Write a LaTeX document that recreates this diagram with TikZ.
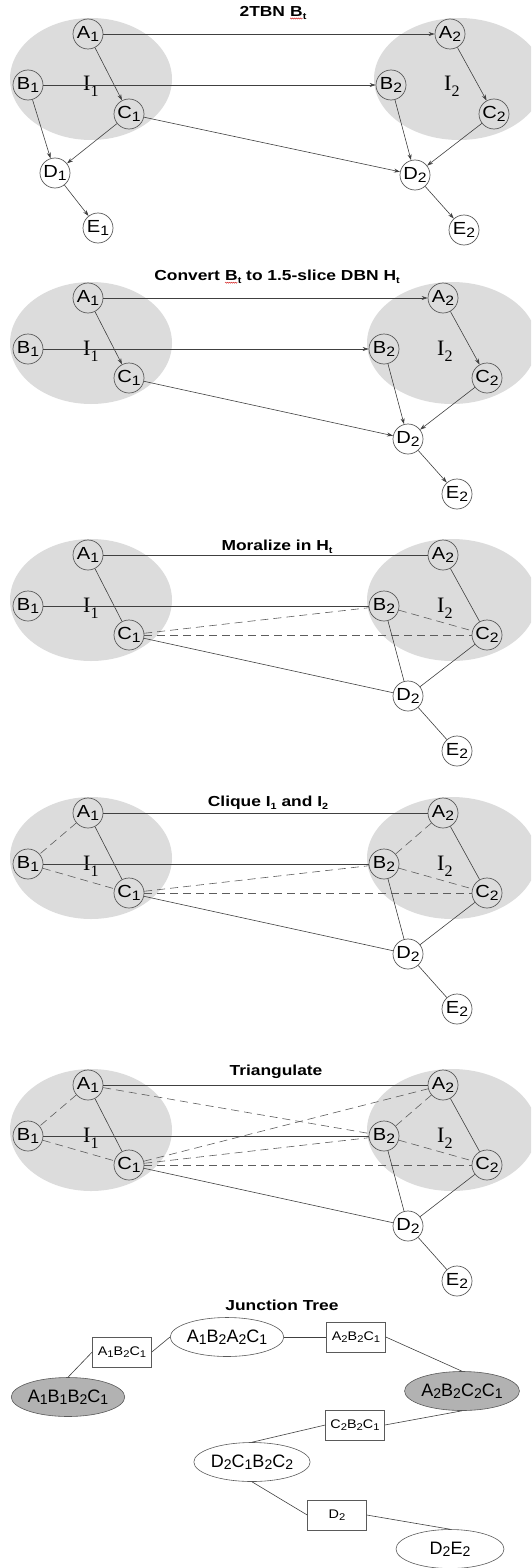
\documentclass[tikz,border=0pt]{standalone}
\usepackage{fontspec}
\setmainfont{Liberation Sans}
\newfontfamily\serifI{Liberation Serif}
\newfontfamily\wideSans[FakeStretch=1.15]{Liberation Sans}
\newfontfamily\titleSans[FakeStretch=1.2]{Liberation Sans}
\usetikzlibrary{arrows.meta,shapes.geometric,decorations.pathmorphing}

\definecolor{slicegray}{HTML}{DCDCDC}
\definecolor{cliquegray}{HTML}{B2B2B2}
\definecolor{edge}{HTML}{404040}
\definecolor{ring}{HTML}{5A5A5A}

% letter with a lowered, smaller index
\newcommand\vn[2]{#1\raisebox{-0.25ex}{\scalebox{0.78}{#2}}}
% bold title index
\newcommand\tsub[1]{\raisebox{-0.35ex}{\fontsize{9}{9}\selectfont #1}}
% interface label I_k
\newcommand\ifc[1]{I\raisebox{-6pt}{\fontsize{16}{16}\selectfont #1}}
% B with a red wavy underline
\newcommand\wavyB{\tikz[baseline=(wb.base)]{\node[inner sep=0pt,outer sep=0pt] (wb) {B};
  \draw[red!80!black,line width=0.35pt,decorate,decoration={snake,amplitude=0.6pt,segment length=2pt}]
    ([yshift=-1.8pt]wb.south west) -- ([yshift=-1.8pt]wb.south east);}}

\tikzset{
  var/.style={circle,draw=ring,line width=0.7pt,minimum size=30pt,inner sep=0pt,
    font=\wideSans\fontsize{17.5}{17.5}\selectfont},
  ilabel/.style={inner sep=0pt,anchor=base west,font=\serifI\fontsize{22}{22}\selectfont},
  ttl/.style={inner sep=0pt,font=\titleSans\bfseries\fontsize{14.5}{14.5}\selectfont},
  arc/.style={draw=edge,line width=0.6pt,-{Stealth[length=6pt,width=4pt]}},
  link/.style={draw=edge,line width=0.6pt},
  fill-in/.style={draw=edge!85,line width=0.6pt,dash pattern=on 8pt off 5pt},
  clique/.style={ellipse,draw=ring,line width=0.6pt,minimum width=108pt,minimum height=39pt,
    inner sep=0pt,font=\fontsize{18}{18}\selectfont},
  sepset/.style={rectangle,draw=ring,line width=0.6pt,minimum width=59pt,minimum height=30pt,
    inner sep=0pt,font=\wideSans\fontsize{12.5}{12.5}\selectfont},
}

% one slice pair: #1 name suffix, #2 y of the top row, #3 x offset of the second slice
\newcommand\slicepair[3]{%
  \fill[slicegray] (91,{#2+45}) ellipse [x radius=81, y radius=61];
  \fill[slicegray] ({452+#3},{#2+45}) ellipse [x radius=85, y radius=61];
  \node[var] (A1-#1) at (88,#2) {\vn{A}{1}};
  \node[var] (B1-#1) at (28,{#2+51}) {\vn{B}{1}};
  \node[var] (C1-#1) at (129,{#2+80}) {\vn{C}{1}};
  \node[var] (A2-#1) at ({443+#3},#2) {\vn{A}{2}};
  \node[var] (B2-#1) at ({384+#3},{#2+51}) {\vn{B}{2}};
  \node[var] (C2-#1) at ({487+#3},{#2+80}) {\vn{C}{2}};
  \node[var] (D2-#1) at ({408+#3},{#2+141}) {\vn{D}{2}};
  \node[var] (E2-#1) at ({457+#3},{#2+196}) {\vn{E}{2}};
  \node[ilabel] (I1-#1) at (83,{#2+57}) {\ifc{1}};
  \node[ilabel] (I2-#1) at ({437+#3},{#2+57}) {\ifc{2}};
}

\begin{document}
\begin{tikzpicture}[x=1pt,y=-1pt]
\useasboundingbox (0,0) rectangle (531,1568);
\clip (0,0) rectangle (531,1568);

% ---- 2TBN ----
\slicepair{a}{34}{7}
\node[var] (D1-a) at (55,173) {\vn{D}{1}};
\node[var] (E1-a) at (98,228) {\vn{E}{1}};
\node[ttl] (t-a) at (273,13) {2TBN \wavyB\tsub{t}};
\draw[arc] (A1-a) -- (A2-a);
\draw[arc] (B1-a) -- (B2-a);
\draw[arc] (A1-a) -- (C1-a);
\draw[arc] (B1-a) -- (D1-a);
\draw[arc] (C1-a) -- (D1-a);
\draw[arc] (D1-a) -- (E1-a);
\draw[arc] (C1-a) -- (D2-a);
\draw[arc] (A2-a) -- (C2-a);
\draw[arc] (B2-a) -- (D2-a);
\draw[arc] (C2-a) -- (D2-a);
\draw[arc] (D2-a) -- (E2-a);

% ---- 1.5-slice DBN ----
\slicepair{b}{298}{0}
\node[ttl] (t-b) at (277,277) {Convert \wavyB\tsub{t} to 1.5-slice DBN H\tsub{t}};
\draw[arc] (A1-b) -- (A2-b);
\draw[arc] (B1-b) -- (B2-b);
\draw[arc] (A1-b) -- (C1-b);
\draw[arc] (C1-b) -- (D2-b);
\draw[arc] (A2-b) -- (C2-b);
\draw[arc] (B2-b) -- (D2-b);
\draw[arc] (C2-b) -- (D2-b);
\draw[arc] (D2-b) -- (E2-b);

% ---- moral graph ----
\slicepair{c}{555}{0}
\node[ttl] (t-c) at (277,547) {Moralize in H\tsub{t}};
\draw[link] (A1-c) -- (A2-c);
\draw[link] (B1-c) -- (B2-c);
\draw[link] (A1-c) -- (C1-c);
\draw[link] (C1-c) -- (D2-c);
\draw[link] (A2-c) -- (C2-c);
\draw[link] (B2-c) -- (D2-c);
\draw[link] (C2-c) -- (D2-c);
\draw[link] (D2-c) -- (E2-c);
\draw[fill-in] (C1-c) -- (B2-c);
\draw[fill-in] (C1-c) -- (C2-c);
\draw[fill-in] (B2-c) -- (C2-c);

% ---- interfaces made cliques ----
\slicepair{d}{813}{0}
\node[ttl] (t-d) at (268,803) {Clique I\tsub{1} and I\tsub{2}};
\draw[link] (A1-d) -- (A2-d);
\draw[link] (B1-d) -- (B2-d);
\draw[link] (A1-d) -- (C1-d);
\draw[link] (C1-d) -- (D2-d);
\draw[link] (A2-d) -- (C2-d);
\draw[link] (B2-d) -- (D2-d);
\draw[link] (C2-d) -- (D2-d);
\draw[link] (D2-d) -- (E2-d);
\draw[fill-in] (C1-d) -- (B2-d);
\draw[fill-in] (C1-d) -- (C2-d);
\draw[fill-in] (B2-d) -- (C2-d);
\draw[fill-in] (A1-d) -- (B1-d);
\draw[fill-in] (B1-d) -- (C1-d);
\draw[fill-in] (A2-d) -- (B2-d);

% ---- triangulated ----
\slicepair{e}{1085}{0}
\node[ttl] (t-e) at (276,1072) {Triangulate};
\draw[link] (A1-e) -- (A2-e);
\draw[link] (B1-e) -- (B2-e);
\draw[link] (A1-e) -- (C1-e);
\draw[link] (C1-e) -- (D2-e);
\draw[link] (A2-e) -- (C2-e);
\draw[link] (B2-e) -- (D2-e);
\draw[link] (C2-e) -- (D2-e);
\draw[link] (D2-e) -- (E2-e);
\draw[fill-in] (C1-e) -- (B2-e);
\draw[fill-in] (C1-e) -- (C2-e);
\draw[fill-in] (B2-e) -- (C2-e);
\draw[fill-in] (A1-e) -- (B1-e);
\draw[fill-in] (B1-e) -- (C1-e);
\draw[fill-in] (A2-e) -- (B2-e);
\draw[fill-in] (A1-e) -- (B2-e);
\draw[fill-in] (C1-e) -- (A2-e);

% ---- junction tree ----
\node[ttl] (t-f) at (282,1305) {Junction Tree};
\node[clique,fill=cliquegray] (k1) at (68,1397) {\vn{A}{1}\vn{B}{1}\vn{B}{2}\vn{C}{1}};
\node[clique] (k2) at (227,1337) {\vn{A}{1}\vn{B}{2}\vn{A}{2}\vn{C}{1}};
\node[clique,fill=cliquegray] (k3) at (462,1391) {\vn{A}{2}\vn{B}{2}\vn{C}{2}\vn{C}{1}};
\node[clique] (k4) at (252,1462) {\vn{D}{2}\vn{C}{1}\vn{B}{2}\vn{C}{2}};
\node[clique] (k5) at (450,1549) {\vn{D}{2}\vn{E}{2}};
\node[sepset] (s1) at (122,1352) {\vn{A}{1}\vn{B}{2}\vn{C}{1}};
\node[sepset] (s2) at (356,1337) {\vn{A}{2}\vn{B}{2}\vn{C}{1}};
\node[sepset] (s3) at (355,1425) {\vn{C}{2}\vn{B}{2}\vn{C}{1}};
\node[sepset] (s4) at (337,1515) {\vn{D}{2}};
\draw[link] (k1.north) -- (s1.west);
\draw[link] (s1.east) -- (k2.west);
\draw[link] (k2.east) -- (s2.west);
\draw[link] (s2.east) -- (k3.north);
\draw[link] (k3.south) -- (s3.east);
\draw[link] (s3.west) -- (k4.north);
\draw[link] (k4.south) -- (s4.west);
\draw[link] (s4.east) -- (k5.north);
\end{tikzpicture}
\end{document}
